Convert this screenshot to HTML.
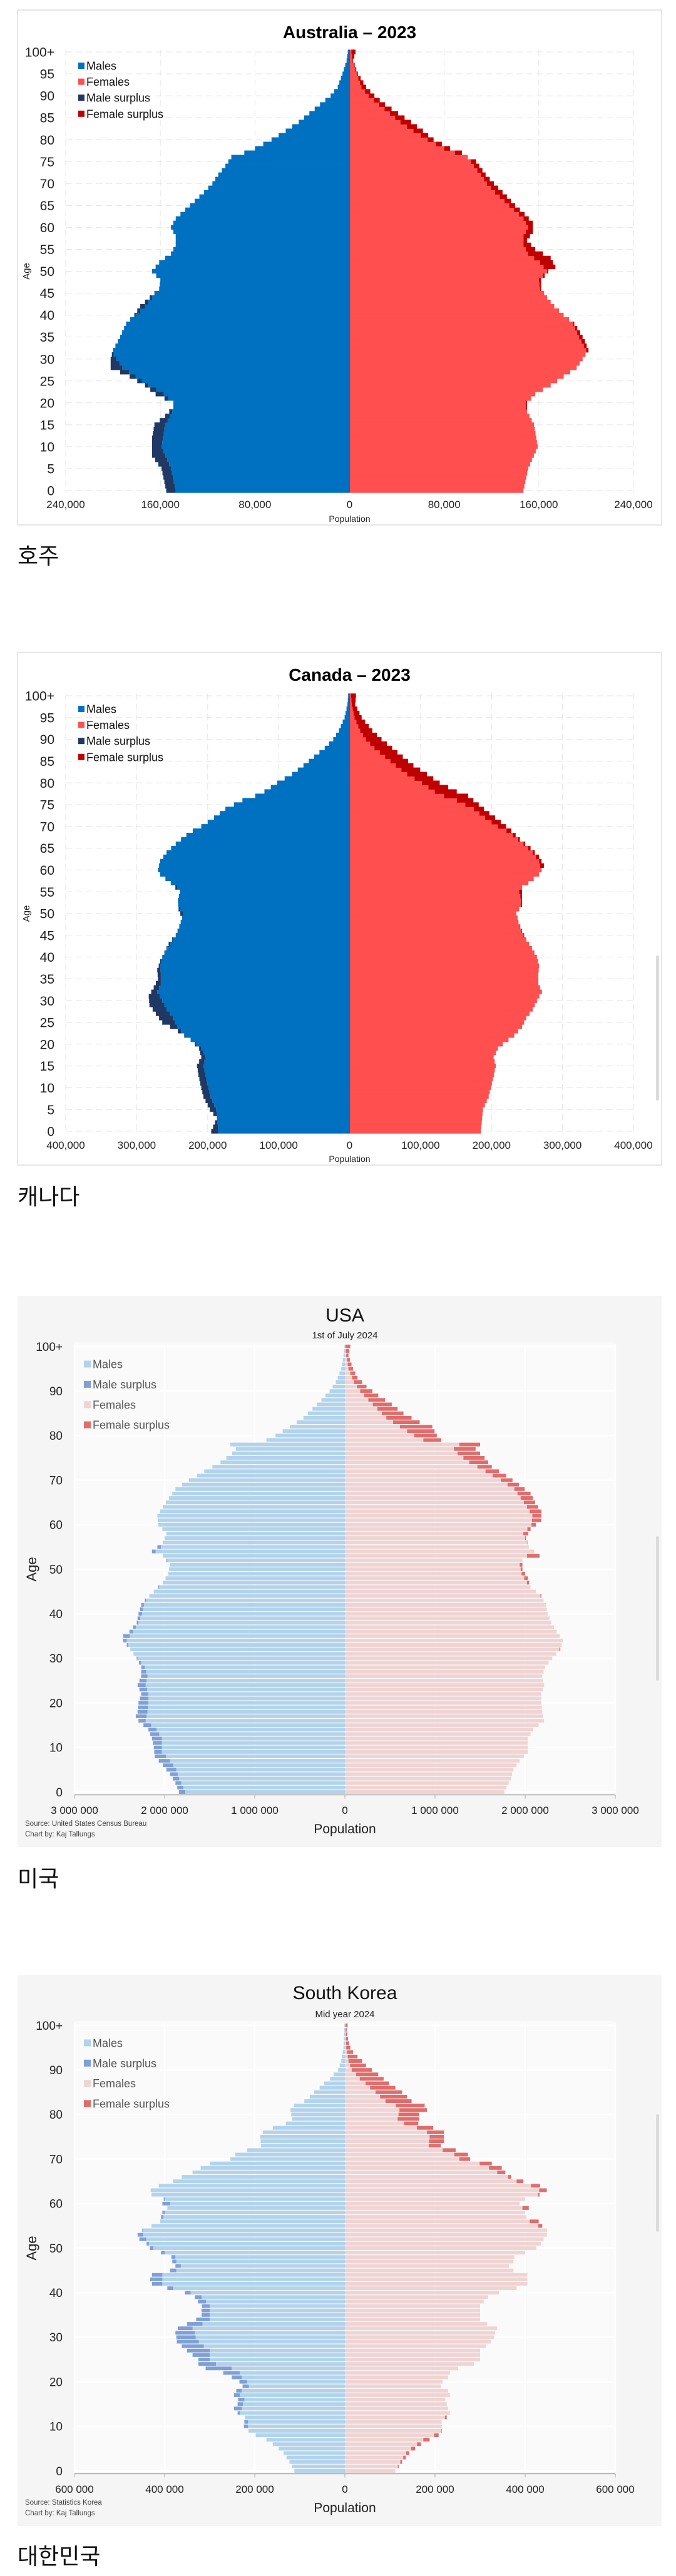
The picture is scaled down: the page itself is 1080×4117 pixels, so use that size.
<!DOCTYPE html>
<html><head><meta charset="utf-8">
<style>
html,body{margin:0;padding:0;background:#fff;}
body{width:1080px;height:4117px;position:relative;overflow:hidden;font-family:"Liberation Sans","Noto Sans CJK KR",sans-serif;}
.kr{position:absolute;left:28px;font-size:36px;font-family:"Liberation Sans","Noto Sans CJK KR",sans-serif;color:#111;line-height:1;}
svg{position:absolute;left:0;top:0;}
</style></head>
<body>
<svg id="s" width="1080" height="4117" xmlns="http://www.w3.org/2000/svg"></svg>
<div class="kr" style="top:871px">호주</div>
<div class="kr" style="top:1895px">캐나다</div>
<div class="kr" style="top:2985px">미국</div>
<div class="kr" style="top:4068px">대한민국</div>
<script>
function interp(pts){var a=[];for(var i=0;i<pts.length-2;i+=2){var x0=pts[i],y0=pts[i+1],x1=pts[i+2],y1=pts[i+3];for(var x=x0;x<x1;x++){a[x]=y0+(y1-y0)*(x-x0)/(x1-x0);}}a[pts[pts.length-2]]=pts[pts.length-1];return a;}
var S=document.getElementById('s');var out='';
function R(x,y,w,h,c,extra){out+='<rect x="'+x.toFixed(2)+'" y="'+y.toFixed(2)+'" width="'+Math.max(0,w).toFixed(2)+'" height="'+h.toFixed(2)+'" fill="'+c+'"'+(extra||'')+'/>';}
function T(x,y,t,sz,anchor,extra){out+='<text x="'+x+'" y="'+y+'" font-size="'+sz+'" text-anchor="'+(anchor||'start')+'" '+(extra||'')+'>'+t+'</text>';}
function chart(c){
 var m=interp(c.m),f=interp(c.f);
 var h=(c.y0-c.y100)/100;
 var sc=(c.cx-c.xl)/c.max;
 // background box
 if(c.style==1){R(28,c.top,1029,c.bot-c.top,'#fff',' stroke="#ddd" stroke-width="1.5"');}
 else{R(28,c.top,1029,c.bot-c.top,'#f5f5f5');R(c.xl,c.y100-h/2-3,c.xr-c.xl,c.y0-c.y100+h+3,'#fafafa');}
 // grid
 for(var a=0;a<=100;a+=c.gstep){var y=c.y0-a*h;
   if(c.style==1)out+='<line x1="'+c.xl+'" x2="'+c.xr+'" y1="'+y+'" y2="'+y+'" stroke="#e6e6e6" stroke-dasharray="10,6" stroke-width="1"/>';
   else out+='<line x1="'+c.xl+'" x2="'+c.xr+'" y1="'+y+'" y2="'+y+'" stroke="#fff" stroke-width="2.5"/>';}
 for(var i=0;i<c.ticks.length;i++){var x=c.xl+(c.xr-c.xl)*i/(c.ticks.length-1);
   if(c.style==1)out+='<line x1="'+x+'" x2="'+x+'" y1="'+(c.y100-h/2)+'" y2="'+(c.y0+h/2)+'" stroke="#e6e6e6" stroke-dasharray="10,6"/>';
   else out+='<line x1="'+x+'" x2="'+x+'" y1="'+(c.y100-h/2)+'" y2="'+(c.y0+h/2)+'" stroke="#fff" stroke-width="2.5"/>';}
 // bars
 for(var a=0;a<=100;a++){var yc=c.y0-a*h;var bh=c.style==1?h+0.4:h-1.2;var yt=yc-bh/2;
   var mw=m[a]*sc,fw=f[a]*sc,mn=Math.min(mw,fw);
   R(c.cx-mn,yt,mn,bh,c.cM);R(c.cx,yt,mn,bh,c.cF);
   if(mw>fw)R(c.cx-mw,yt,mw-mn,bh,c.cMS);
   if(fw>mw)R(c.cx+mn,yt,fw-mn,bh,c.cFS);}
 if(c.style==1)out+='<line x1="'+c.cx+'" x2="'+c.cx+'" y1="'+(c.y100-h/2)+'" y2="'+(c.y0+h/2)+'" stroke="#555" stroke-width="1"/>';
 else out+='<line x1="'+c.xl+'" x2="'+c.xr+'" y1="'+(c.y0+h/2+1)+'" y2="'+(c.y0+h/2+1)+'" stroke="#aaa" stroke-width="1.5"/>';
 // age labels
 for(var a=0;a<=100;a+=c.lstep){T(c.lx,(c.y0-a*h+c.lsz*0.36).toFixed(1),a==100?'100+':a,c.lsz,'end','fill="#222"');}
 // ticks
 for(var i=0;i<c.ticks.length;i++){var x=c.xl+(c.xr-c.xl)*i/(c.ticks.length-1);T(x.toFixed(1),c.ty,c.ticks[i],c.tsz,'middle','fill="#222"');
   if(c.style==2)out+='<line x1="'+x+'" x2="'+x+'" y1="'+(c.y0+h/2+1)+'" y2="'+(c.y0+h/2+7)+'" stroke="#aaa"/>';}
 T(c.cx,c.py,'Population',c.psz,'middle','fill="#222"');
 out+='<text transform="translate('+c.ax+','+((c.y0+c.y100)/2)+') rotate(-90)" font-size="'+c.asz+'" text-anchor="middle" fill="#222">Age</text>';
 T(c.cx,c.tY,c.title,c.tsz2,'middle',c.style==1?'font-weight="bold" fill="#000"':'fill="#111"');
 if(c.sub)T(c.cx,c.subY,c.sub,15,'middle','fill="#222"');
 for(var i=0;i<4;i++){var y=c.lgY+i*c.lgS;R(c.lgX,y-c.lgB/2,c.lgB,c.lgB,c.lgC[i]);T(c.lgX+c.lgB+3,(y+c.lgF*0.36).toFixed(1),c.lgT[i],c.lgF,'start','fill="'+(c.style==1?'#111':'#555')+'"');}
 if(c.src){T(40,c.bot-34,c.src,11.5,'start','fill="#444"');T(40,c.bot-17,'Chart by: Kaj Tallungs',11.5,'start','fill="#444"');}
}
var base1={style:1,xl:105,xr:1012,cx:558.5,gstep:5,lstep:5,lx:87,lsz:21,tsz:17,psz:14,ax:47,asz:15,tsz2:28,lgX:125,lgB:10,lgF:18,
 cM:'#0070c0',cF:'#ff4f4f',cMS:'#1f3864',cFS:'#c00000',lgC:['#0070c0','#ff4f4f','#1f3864','#c00000'],lgT:['Males','Females','Male surplus','Female surplus']};
function ext(a,b){var o={};for(var k in a)o[k]=a[k];for(var k in b)o[k]=b[k];return o;}
chart(ext(base1,{top:16,bot:839,y0:784,y100:83,max:240,ticks:['240,000','160,000','80,000','0','80,000','160,000','240,000'],ty:812,py:834,tY:61,title:'Australia – 2023',lgY:105,lgS:25.6,
 m:[0,155,5,159,8,167,12,167,15,165,17,156,19,149,20,149,22,164,24,173,26,186,28,202,30,202,32,200,35,194,38,189,40,182,42,177,44,169,46,161,48,160,50,167,52,161,54,151,56,147,58,147,60,151,62,147,64,139,66,131,68,123,70,116,72,111,74,105,76,100,77,89,78,80,80,66,82,54,84,43,86,34,88,25,90,16,92,10,95,6,98,2.5,100,1.5],
 f:[0,147,5,151,10,159,15,156,18,150,20,150,22,157,24,170,26,181,28,192,30,197,32,202,34,199,36,195,38,190,40,181,42,173,44,167,46,162,48,162,50,168,51,174,53,170,55,157,57,150,59,155,61,155,63,148,65,140,67,133,70,122,72,115,75,107,76,100,77,95,78,85,80,71,82,62,84,52,86,41,88,30,90,21,92,14,95,7,98,3,100,5]}));
chart(ext(base1,{top:1043,bot:1862,y0:1808,y100:1112,max:400,ticks:['400,000','300,000','200,000','100,000','0','100,000','200,000','300,000','400,000'],ty:1836,py:1857,tY:1088,title:'Canada – 2023',lgY:1133,lgS:25.6,
 m:[0,195,3,187,5,197,8,206,10,209,13,213,15,215,17,209,19,212,21,224,23,242,25,264,27,273,29,282,31,283,33,276,35,270,37,271,39,267,41,261,43,255,45,245,47,240,49,236,51,241,53,242,55,239,57,252,59,267,60,270,62,267,64,258,66,245,68,230,69,221,70,209,72,191,74,175,75,163,76,151,77,133,78,120,80,102,82,81,84,65,86,50,88,35,90,23,92,15,95,7,98,3,100,2],
 f:[0,185,5,188,8,196,12,202,15,206,17,203,19,209,20,216,22,232,24,243,26,249,28,258,30,264,32,271,34,266,36,266,38,267,40,264,42,257,44,249,46,243,48,238,50,235,52,243,54,243,56,243,57,252,59,267,61,274,63,267,65,255,67,240,69,228,71,213,73,197,75,182,77,167,78,151,80,127,82,109,84,90,86,75,88,60,90,45,92,32,95,17,98,8,100,9]}));
var base2={style:2,xl:119,xr:983,cx:551,gstep:10,lstep:10,lx:100,lsz:19,tsz:17,psz:21,ax:58,asz:22,tsz2:30,lgX:134,lgB:11,lgF:18,
 cM:'#b2d3ec',cF:'#f0d4d4',cMS:'#7f9fd6',cFS:'#e06c6c',lgC:['#b2d3ec','#7f9fd6','#f0d4d4','#e06c6c'],lgT:['Males','Male surplus','Females','Female surplus']};
chart(ext(base2,{top:2071,bot:2952,y0:2864,y100:2152,max:3000,ticks:['3 000 000','2 000 000','1 000 000','0','1 000 000','2 000 000','3 000 000'],ty:2899,py:2930,tY:2112,title:'USA',sub:'1st of July 2024',subY:2139,lgY:2180,lgS:32.4,src:'Source: United States Census Bureau',
 m:[0,1840,2,1880,4,1940,6,2020,8,2110,10,2120,12,2140,14,2180,16,2290,17,2320,18,2300,20,2290,22,2260,24,2300,26,2260,28,2260,30,2310,32,2380,34,2460,35,2460,36,2390,38,2310,40,2290,42,2260,43,2220,45,2120,47,2020,49,1960,51,1940,53,2020,54,2140,56,2020,58,1980,60,2070,62,2080,64,2020,66,1950,68,1880,70,1730,71,1640,72,1560,74,1380,76,1250,77,1210,78,1270,79,870,80,770,82,610,84,460,86,360,88,260,90,170,92,100,95,40,98,15,100,5],
 f:[0,1770,3,1840,5,1870,7,1940,9,2030,12,2030,14,2090,16,2210,18,2190,20,2180,22,2180,24,2210,26,2190,28,2220,30,2300,32,2390,34,2420,36,2350,38,2290,40,2250,42,2230,44,2180,46,2060,48,2030,50,1970,52,1970,53,2160,55,2040,57,2010,59,2060,61,2180,63,2180,65,2110,67,2060,69,1930,71,1790,73,1630,75,1550,77,1450,78,1500,79,1070,80,1020,82,970,83,830,85,650,87,520,89,370,91,240,93,140,95,90,98,40,100,60]}));
chart(ext(base2,{top:3156,bot:4037,y0:3949,y100:3237,max:600,ticks:['600 000','400 000','200 000','0','200 000','400 000','600 000'],ty:3984,py:4015,tY:3195,title:'South Korea',sub:'Mid year 2024',subY:3224,lgY:3265,lgS:32.3,src:'Source: Statistics Korea',
 m:[0,112,2,123,4,136,5,147,6,160,7,174,8,198,9,214,10,224,12,222,13,238,14,246,15,238,16,237,17,246,18,241,19,227,20,234,21,251,22,270,23,309,24,325,25,325,26,338,27,350,28,362,29,373,30,374,31,376,32,371,33,350,34,330,35,318,36,318,37,317,38,326,39,333,40,355,41,394,42,428,43,432,44,428,45,388,46,376,47,383,48,385,49,408,50,433,51,440,52,456,53,460,54,450,55,429,56,410,57,408,58,405,59,394,60,405,61,402,62,429,63,431,64,413,65,381,66,362,67,338,68,320,69,299,70,254,71,243,72,217,73,186,75,188,76,182,77,160,78,131,79,117,81,121,82,113,83,90,84,78,85,68,86,56,87,46,88,33,89,25,90,15,92,8,95,3,100,1],
 f:[0,112,2,127,4,143,5,156,6,169,7,188,8,208,9,215,11,215,12,226,13,233,14,229,16,223,17,233,18,229,19,213,20,217,21,229,22,233,23,251,24,286,25,300,27,300,28,313,29,324,30,331,31,333,32,338,33,316,34,300,37,300,38,308,39,318,40,342,41,381,42,405,44,405,45,374,46,364,47,374,48,376,49,400,50,425,51,435,52,441,53,448,54,449,55,438,56,430,57,403,58,400,59,408,60,388,61,400,62,432,63,448,64,433,65,396,66,369,67,356,68,348,69,326,70,278,71,273,72,246,73,213,74,220,76,220,77,196,78,163,79,165,80,165,81,182,82,177,83,148,84,138,85,127,86,112,87,98,88,86,89,74,90,60,91,47,92,38,93,28,94,18,95,12,97,7,99,4,100,6]}));
// scrollbar hints
R(1048,1527,5,232,'#dcdcdc',' rx="2.5"');R(1048,2455,5,231,'#dcdcdc',' rx="2.5"');R(1048,3379,5,188,'#dcdcdc',' rx="2.5"');
out=out.replace(/<text /g,'<text font-family="Liberation Sans, sans-serif" ');
S.innerHTML=out;
</script>
</body></html>
